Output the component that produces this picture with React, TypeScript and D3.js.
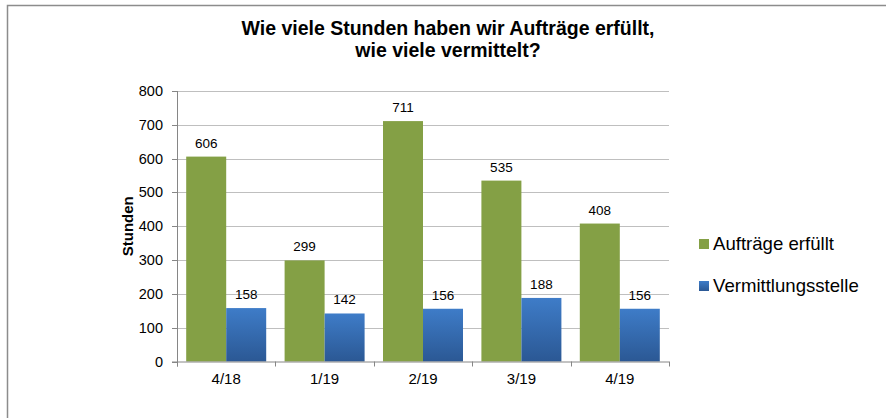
import React, { useRef, useEffect } from 'react';
import * as d3 from 'd3';

const categories = ['4/18', '1/19', '2/19', '3/19', '4/19'];
const auftraege = [606, 299, 711, 535, 408];
const vermittlung = [158, 142, 156, 188, 156];
const seriesNames = ['Aufträge erfüllt', 'Vermittlungsstelle'];
const yTicks = [0, 100, 200, 300, 400, 500, 600, 700, 800];

const App = () => {
  const svgRef = useRef<SVGSVGElement>(null);
  const width = 886;
  const height = 418;

  useEffect(() => {
    const svg = d3.select(svgRef.current).attr('width', width).attr('height', height).html('');
    const font = 'Arial, "Liberation Sans", sans-serif';

    // gradient for the blue series
    const defs = svg.append('defs');
    const grad = defs.append('linearGradient').attr('id', 'blueGrad')
      .attr('x1', 0).attr('y1', 0).attr('x2', 0).attr('y2', 1);
    grad.append('stop').attr('offset', '0%').attr('stop-color', '#3e7cc8');
    grad.append('stop').attr('offset', '100%').attr('stop-color', '#2b5894');

    // outer frame
    svg.append('rect').attr('x', 7.5).attr('y', 5.5).attr('width', 890).attr('height', 430)
      .attr('fill', 'white').attr('stroke', '#8c8c8c').attr('stroke-width', 1.5);

    // title
    const title = svg.append('text').attr('text-anchor', 'middle').attr('font-family', font)
      .attr('font-weight', 'bold').attr('font-size', 19.5).attr('fill', '#000');
    title.append('tspan').attr('x', 448).attr('y', 35).text('Wie viele Stunden haben wir Aufträge erfüllt,');
    title.append('tspan').attr('x', 448).attr('y', 57).text('wie viele vermittelt?');

    const left = 177, right = 669, top = 91, bottom = 361.5;
    const x = d3.scaleBand().domain(categories).range([left, right]).paddingInner(0.187).paddingOuter(0.0935);
    const xSub = d3.scaleBand().domain(seriesNames).range([0, x.bandwidth()]);
    const y = d3.scaleLinear().domain([0, 800]).range([bottom, top]);

    // gridlines
    svg.append('g').selectAll('line').data(yTicks.filter(d => d > 0)).enter().append('line')
      .attr('x1', left).attr('x2', right)
      .attr('y1', d => Math.round(y(d)) + 0.5).attr('y2', d => Math.round(y(d)) + 0.5)
      .attr('stroke', '#bfbfbf').attr('stroke-width', 1);

    // bars
    const groups = svg.append('g').selectAll('g').data(categories).enter().append('g')
      .attr('transform', d => `translate(${x(d)},0)`);
    groups.append('rect')
      .attr('x', xSub(seriesNames[0])!).attr('width', xSub.bandwidth())
      .attr('y', (d, i) => y(auftraege[i])).attr('height', (d, i) => bottom - y(auftraege[i]))
      .attr('fill', '#84a045');
    groups.append('rect')
      .attr('x', xSub(seriesNames[1])!).attr('width', xSub.bandwidth())
      .attr('y', (d, i) => y(vermittlung[i])).attr('height', (d, i) => bottom - y(vermittlung[i]))
      .attr('fill', 'url(#blueGrad)');

    // value labels
    groups.append('text').attr('text-anchor', 'middle').attr('font-family', font).attr('font-size', 13.5)
      .attr('x', xSub(seriesNames[0])! + xSub.bandwidth() / 2)
      .attr('y', (d, i) => y(auftraege[i]) - 9).text((d, i) => auftraege[i]);
    groups.append('text').attr('text-anchor', 'middle').attr('font-family', font).attr('font-size', 13.5)
      .attr('x', xSub(seriesNames[1])! + xSub.bandwidth() / 2)
      .attr('y', (d, i) => y(vermittlung[i]) - 9).text((d, i) => vermittlung[i]);

    // axes
    const axisColor = '#868686';
    svg.append('line').attr('x1', left + 0.5).attr('x2', left + 0.5).attr('y1', top).attr('y2', bottom + 5)
      .attr('stroke', axisColor);
    svg.append('line').attr('x1', left - 5).attr('x2', right).attr('y1', bottom + 0.5).attr('y2', bottom + 0.5)
      .attr('stroke', axisColor);
    svg.append('g').selectAll('line').data(yTicks).enter().append('line')
      .attr('x1', left - 5).attr('x2', left)
      .attr('y1', d => Math.round(y(d)) + 0.5).attr('y2', d => Math.round(y(d)) + 0.5)
      .attr('stroke', axisColor);
    const step = (right - left) / categories.length;
    svg.append('g').selectAll('line').data(d3.range(categories.length + 1)).enter().append('line')
      .attr('x1', i => Math.round(left + i * step) + 0.5).attr('x2', i => Math.round(left + i * step) + 0.5)
      .attr('y1', bottom).attr('y2', bottom + 5).attr('stroke', axisColor);

    svg.append('g').selectAll('text').data(yTicks).enter().append('text')
      .attr('x', left - 14).attr('y', d => y(d) + 5).attr('text-anchor', 'end')
      .attr('font-family', font).attr('font-size', 14.5).text(d => d);

    svg.append('g').selectAll('text').data(categories).enter().append('text')
      .attr('x', d => x(d)! + x.bandwidth() / 2).attr('y', bottom + 22).attr('text-anchor', 'middle')
      .attr('font-family', font).attr('font-size', 15).text(d => d);

    svg.append('text').attr('transform', `translate(133,${(top + bottom) / 2}) rotate(-90)`)
      .attr('text-anchor', 'middle').attr('font-family', font).attr('font-weight', 'bold')
      .attr('font-size', 15).text('Stunden');

    // legend
    const legend = svg.append('g').selectAll('g').data(seriesNames).enter().append('g')
      .attr('transform', (d, i) => `translate(699,${239 + i * 42})`);
    legend.append('rect').attr('width', 10).attr('height', 10)
      .attr('fill', (d, i) => (i === 0 ? '#84a045' : 'url(#blueGrad)'));
    legend.append('text').attr('x', 14).attr('y', 11).attr('font-family', font).attr('font-size', 18.6)
      .text(d => d);
  }, []);

  return (
    <div style={{ position: 'absolute', left: 0, top: 0 }}>
      <svg ref={svgRef} style={{ display: 'block' }}></svg>
    </div>
  );
};

export default App;
